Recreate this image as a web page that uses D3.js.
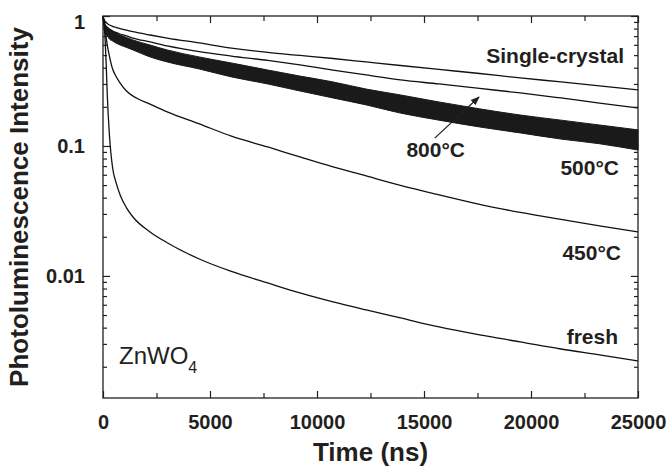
<!DOCTYPE html>
<html>
<head>
<meta charset="utf-8">
<script src="https://cdn.jsdelivr.net/npm/d3@7"></script>
<style>
  body { margin: 0; background: #fff; }
  svg { display: block; font-family: "Liberation Sans", Arial, Helvetica, sans-serif; }
  .axis path { display: none; }
  .axis line { stroke: #231f20; stroke-width: 1.2; }
  .axis text { fill: #231f20; font-size: 20px; font-weight: bold; }
</style>
</head>
<body>
<div id="chart"></div>
<script>
const times = [0, 50, 100, 150, 200, 300, 450, 600, 800, 1100, 1400, 2200, 3000, 4500, 6000,
  7700, 9200, 10750, 12300, 13900, 15700, 17600, 19500, 21400, 23200, 25000];

const singleCrystal = [0.982, 0.94, 0.907, 0.891, 0.875, 0.853, 0.833, 0.818, 0.801, 0.778, 0.757,
  0.714, 0.677, 0.620, 0.567, 0.524, 0.497, 0.471, 0.443, 0.416, 0.388, 0.361, 0.334, 0.311, 0.290, 0.270];
const annealed800 = [0.982, 0.915, 0.853, 0.830, 0.816, 0.794, 0.767, 0.747, 0.727, 0.702, 0.677,
  0.631, 0.588, 0.531, 0.492, 0.455, 0.420, 0.384, 0.352, 0.322, 0.300, 0.277, 0.256, 0.234, 0.214, 0.196];
// 500°C is very noisy: keep the upper and lower edge of the band
const annealed500Upper = [1.0, 0.932, 0.853, 0.838, 0.823, 0.794, 0.767, 0.740, 0.714, 0.683, 0.654,
  0.598, 0.548, 0.484, 0.435, 0.384, 0.345, 0.311, 0.274, 0.247, 0.218, 0.193, 0.173, 0.158, 0.145, 0.133];
const annealed500Lower = [0.965, 0.823, 0.740, 0.714, 0.702, 0.665, 0.642, 0.620, 0.598, 0.573, 0.548,
  0.484, 0.443, 0.391, 0.340, 0.300, 0.265, 0.234, 0.207, 0.179, 0.158, 0.140, 0.126, 0.113, 0.104, 0.093];
const annealed450 = [0.982, 0.868, 0.767, 0.677, 0.598, 0.492, 0.391, 0.345, 0.305, 0.265, 0.242,
  0.210, 0.183, 0.148, 0.119, 0.0982, 0.0823, 0.0689, 0.0588, 0.0497, 0.0420, 0.0355, 0.0308, 0.0272, 0.0243, 0.0218];
const fresh = [0.982, 0.853, 0.654, 0.420, 0.247, 0.1215, 0.0677, 0.0529, 0.0420, 0.0334, 0.0284,
  0.0218, 0.0180, 0.0135, 0.01083, 0.00883, 0.00740, 0.00631, 0.00547, 0.00475, 0.00405, 0.00352, 0.00311, 0.00274, 0.00247, 0.00222];

const xTicks = [0, 5000, 10000, 15000, 20000, 25000];
const xMinorTicks = [2500, 7500, 12500, 17500, 22500];
const yTicks = [1, 0.1, 0.01];
const yTickLabels = ["1", "0.1", "0.01"];
const yMinorTicks = [0.9, 0.8, 0.7, 0.6, 0.5, 0.4, 0.3, 0.2,
  0.09, 0.08, 0.07, 0.06, 0.05, 0.04, 0.03, 0.02,
  0.009, 0.008, 0.007, 0.006, 0.005, 0.004, 0.003, 0.002];

const width = 668, height = 469;
const margin = { top: 16, right: 30, bottom: 71, left: 103 };
const innerW = width - margin.left - margin.right;
const innerH = height - margin.top - margin.bottom;
const ink = "#231f20";

const svg = d3.select("#chart").append("svg")
  .attr("width", width)
  .attr("height", height);

const g = svg.append("g").attr("transform", `translate(${margin.left},${margin.top})`);

const x = d3.scaleLinear().domain([0, 25000]).range([0, innerW]);
const y = d3.scaleLog().domain([0.00115, 1]).range([innerH, 0]);

// axes, ticks pointing inward on all four sides
g.append("g").attr("class", "axis")
  .attr("transform", `translate(0,${innerH})`)
  .call(d3.axisBottom(x).tickValues(xTicks).tickSize(-7).tickPadding(17).tickFormat(d3.format("d")));
g.append("g").attr("class", "axis")
  .attr("transform", `translate(0,${innerH})`)
  .call(d3.axisBottom(x).tickValues(xMinorTicks).tickSize(-5).tickFormat(""));
g.append("g").attr("class", "axis")
  .call(d3.axisTop(x).tickValues(xTicks).tickSize(-7).tickFormat(""));
g.append("g").attr("class", "axis")
  .call(d3.axisTop(x).tickValues(xMinorTicks).tickSize(-5).tickFormat(""));

const yAxis = g.append("g").attr("class", "axis")
  .call(d3.axisLeft(y).tickValues(yTicks).tickSize(-7).tickPadding(18)
    .tickFormat((d, i) => yTickLabels[i]));
// the "1" sits a little below the top edge
yAxis.selectAll(".tick text").filter(d => d === 1).attr("dy", "0.6em");

g.append("g").attr("class", "axis")
  .call(d3.axisLeft(y).tickValues(yMinorTicks).tickSize(-4).tickFormat(""));
g.append("g").attr("class", "axis")
  .attr("transform", `translate(${innerW},0)`)
  .call(d3.axisRight(y).tickValues(yTicks).tickSize(-7).tickFormat(""));
g.append("g").attr("class", "axis")
  .attr("transform", `translate(${innerW},0)`)
  .call(d3.axisRight(y).tickValues(yMinorTicks).tickSize(-4).tickFormat(""));

g.append("rect")
  .attr("width", innerW)
  .attr("height", innerH)
  .attr("fill", "none")
  .attr("stroke", ink)
  .attr("stroke-width", 1.3);

// curves
const line = d3.line()
  .x((d, i) => x(times[i]))
  .y(d => y(d))
  .curve(d3.curveMonotoneX);

const band = d3.area()
  .x(d => x(d.t))
  .y0(d => y(d.lo))
  .y1(d => y(d.hi))
  .curve(d3.curveMonotoneX);

const bandData = times.map((t, i) => ({ t: t, hi: annealed500Upper[i], lo: annealed500Lower[i] }));

g.append("path")
  .datum(bandData)
  .attr("d", band)
  .attr("fill", "#1a1a1a")
  .attr("stroke", "#1a1a1a")
  .attr("stroke-width", 1);

[singleCrystal, annealed800, annealed450, fresh].forEach(series => {
  g.append("path")
    .datum(series)
    .attr("d", line)
    .attr("fill", "none")
    .attr("stroke", "#111")
    .attr("stroke-width", 1.3);
});

// series labels
const labels = [
  { text: "Single-crystal", x: 521, y: 63 },
  { text: "800°C", x: 362, y: 157 },
  { text: "500°C", x: 516, y: 175 },
  { text: "450°C", x: 518, y: 260 },
  { text: "fresh", x: 515, y: 344 }
];
g.selectAll("text.series-label")
  .data(labels)
  .enter().append("text")
  .attr("class", "series-label")
  .attr("x", d => d.x)
  .attr("y", d => d.y - margin.top)
  .attr("text-anchor", "end")
  .attr("fill", ink)
  .attr("font-size", 21)
  .attr("font-weight", "bold")
  .text(d => d.text);

// arrow from the 800°C label to its curve
svg.append("defs").append("marker")
  .attr("id", "head")
  .attr("viewBox", "0 0 10 10")
  .attr("refX", 9).attr("refY", 5)
  .attr("markerWidth", 9).attr("markerHeight", 9)
  .attr("markerUnits", "userSpaceOnUse")
  .attr("orient", "auto")
  .append("path")
  .attr("d", "M0,1 L10,5 L0,9 Z")
  .attr("fill", ink);

g.append("line")
  .attr("x1", x(15500)).attr("y1", y(0.115))
  .attr("x2", x(17570)).attr("y2", y(0.238))
  .attr("stroke", ink)
  .attr("stroke-width", 1.2)
  .attr("marker-end", "url(#head)");

// sample name
const zn = g.append("text")
  .attr("x", 16)
  .attr("y", 364 - margin.top)
  .attr("fill", ink)
  .attr("font-size", 24);
zn.append("tspan").text("ZnWO");
zn.append("tspan").attr("font-size", 16).attr("dy", 9).text("4");

// axis titles
svg.append("text")
  .attr("x", margin.left + innerW / 2)
  .attr("y", 461)
  .attr("text-anchor", "middle")
  .attr("fill", ink)
  .attr("font-size", 26)
  .attr("font-weight", "bold")
  .text("Time (ns)");

svg.append("text")
  .attr("transform", `translate(28,${margin.top + innerH / 2}) rotate(-90)`)
  .attr("text-anchor", "middle")
  .attr("fill", ink)
  .attr("font-size", 26)
  .attr("font-weight", "bold")
  .text("Photoluminescence Intensity");
</script>
</body>
</html>
